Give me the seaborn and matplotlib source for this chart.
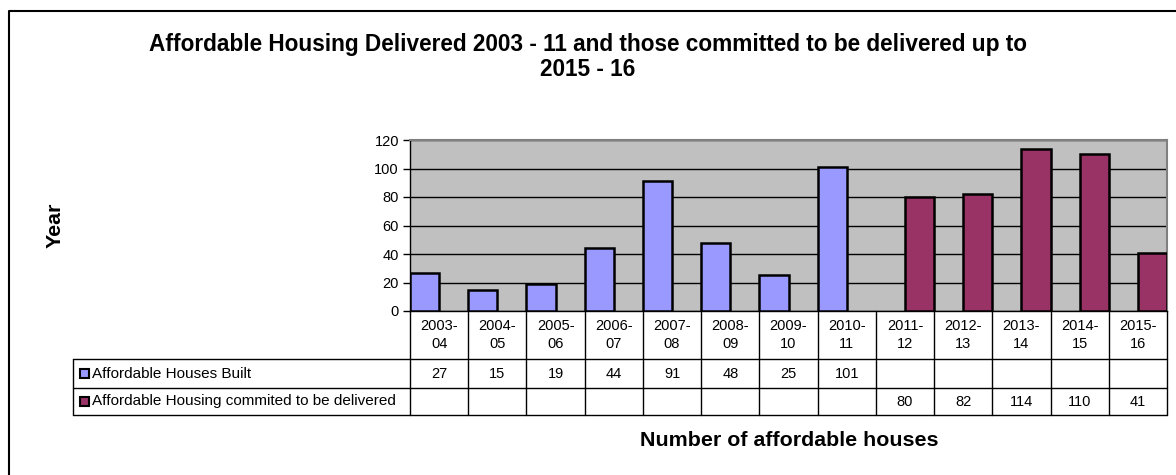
import matplotlib
matplotlib.use("Agg")
import matplotlib.pyplot as plt
import matplotlib.transforms as mtransforms
from matplotlib.lines import Line2D
from matplotlib.patches import Rectangle
import pandas as pd
import seaborn as sns

# ---- data -------------------------------------------------------------
years = ["2003-04", "2004-05", "2005-06", "2006-07", "2007-08", "2008-09",
         "2009-10", "2010-11", "2011-12", "2012-13", "2013-14", "2014-15",
         "2015-16"]
built = [27, 15, 19, 44, 91, 48, 25, 101, None, None, None, None, None]
committed = [None, None, None, None, None, None, None, None, 80, 82, 114, 110, 41]
series_names = ["Affordable Houses Built",
                "Affordable Housing commited to be delivered"]
series_colors = ["#9999FF", "#993366"]
yticks = [0, 20, 40, 60, 80, 100, 120]

title_lines = ["Affordable Housing Delivered 2003 - 11 and those committed to be delivered up to",
               "2015 - 16"]
xlabel = "Number of affordable houses"
ylabel = "Year"

rows = []
for name, vals in zip(series_names, [built, committed]):
    for yr, v in zip(years, vals):
        if v is not None:
            rows.append({"year": yr, "series": name, "value": v})
df = pd.DataFrame(rows)

# ---- figure -----------------------------------------------------------
W, H = 1176, 475
sns.set_theme(style="white")
plt.rcParams["font.family"] = ["Liberation Sans", "DejaVu Sans"]
plt.rcParams["text.color"] = "black"
plt.rcParams["ytick.color"] = "black"
plt.rcParams["ytick.labelcolor"] = "black"

fig = plt.figure(figsize=(W / 100, H / 100), dpi=100)
fig.patch.set_facecolor("white")


def fx(px):
    return px / W


def fy(py):
    return 1 - py / H


plot_l, plot_r, plot_t, plot_b = 410, 1167, 140, 311
ax = fig.add_axes([fx(plot_l), fy(plot_b), fx(plot_r) - fx(plot_l), fy(plot_t) - fy(plot_b)])
ax.set_facecolor("#C0C0C0")

sns.barplot(data=df, x="year", y="value", hue="series", order=years,
            hue_order=series_names, palette=series_colors, width=1.0,
            dodge=True, edgecolor="black", linewidth=1.8, legend=False,
            saturation=1, ax=ax, zorder=3)

ax.set_xlim(-0.5, len(years) - 0.5)
ax.set_ylim(0, 120)
ax.set_yticks(yticks)
ax.set_yticklabels([str(t) for t in yticks], fontsize=10.5, color="black")
ax.set_xticks([])
ax.set_xlabel("")
ax.set_ylabel("")
ax.yaxis.grid(True, color="black", linewidth=1.0, zorder=1)
ax.set_axisbelow(True)
ax.tick_params(axis="y", direction="out", length=5, width=1, color="black",
               pad=3, left=True)
for side in ["top", "right"]:
    ax.spines[side].set_color("#808080")
    ax.spines[side].set_linewidth(1.5)
for side in ["left", "bottom"]:
    ax.spines[side].set_color("black")
    ax.spines[side].set_linewidth(1.0)
    ax.spines[side].set_visible(True)

# ---- data table under the plot ---------------------------------------
tr = mtransforms.blended_transform_factory(ax.transData, fig.transFigure)
cat_bottom, row1_bottom, row2_bottom = 359, 388, 415
legend_left = 73
line_kw = dict(color="black", linewidth=1.0)

# horizontal rules
for py in [cat_bottom, row1_bottom, row2_bottom]:
    fig.add_artist(Line2D([fx(legend_left), fx(plot_r)], [fy(py), fy(py)], **line_kw))
# vertical rules
fig.add_artist(Line2D([fx(legend_left), fx(legend_left)], [fy(cat_bottom), fy(row2_bottom)], **line_kw))
for i in range(len(years) + 1):
    fig.add_artist(Line2D([i - 0.5, i - 0.5], [fy(plot_b), fy(row2_bottom)],
                          transform=tr, **line_kw))

# column headers and values
for i, yr in enumerate(years):
    a, b = yr.split("-")
    fig.text(i, fy((plot_b + cat_bottom) / 2), f"{a}-\n{b}", transform=tr,
             ha="center", va="center", fontsize=10.5, linespacing=1.45)
    for py0, py1, vals in [(cat_bottom, row1_bottom, built),
                           (row1_bottom, row2_bottom, committed)]:
        if vals[i] is not None:
            fig.text(i, fy((py0 + py1) / 2), str(vals[i]), transform=tr,
                     ha="center", va="center", fontsize=10.5)

# row legend keys and names
for (py0, py1), name, col in zip([(cat_bottom, row1_bottom), (row1_bottom, row2_bottom)],
                                 series_names, series_colors):
    cy = (py0 + py1) / 2
    fig.add_artist(Rectangle((fx(80), fy(cy + 4.5)), fx(9), 9 / H,
                             facecolor=col, edgecolor="black", linewidth=1.5))
    fig.text(fx(92), fy(cy), name, ha="left", va="center", fontsize=11)

# ---- titles -----------------------------------------------------------
for line, py in zip(title_lines, [45, 70]):
    fig.text(fx(588), fy(py), line, ha="center", va="center", fontsize=16.3,
             fontweight="bold")
fig.text(fx(789), fy(441), xlabel, ha="center", va="center", fontsize=15.4,
         fontweight="bold")
fig.text(fx(55), fy(225), ylabel, ha="center", va="center", fontsize=15.4,
         fontweight="bold", rotation=90)

# chart frame
fig.add_artist(Line2D([fx(9), fx(9), fx(W + 5)], [fy(H + 5), fy(11), fy(11)],
                      color="black", linewidth=1.5))

fig.savefig("out.png", dpi=100, facecolor="white")
